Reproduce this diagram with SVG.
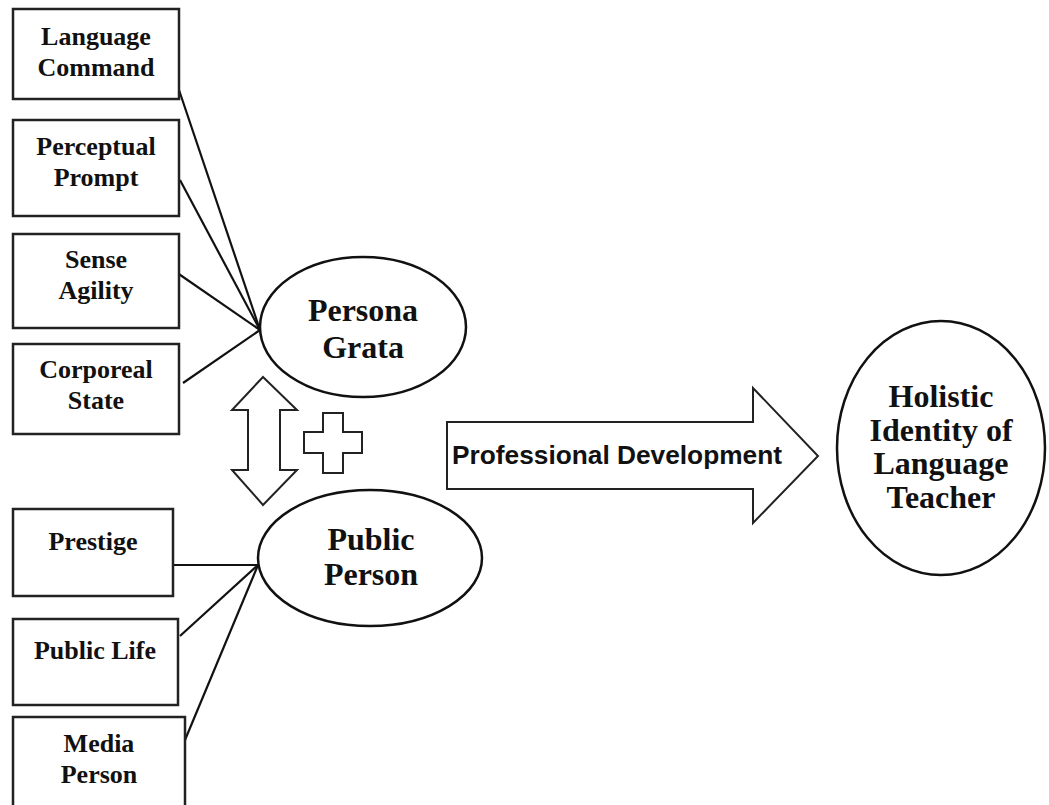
<svg xmlns="http://www.w3.org/2000/svg" width="1049" height="805" viewBox="0 0 1049 805">
<style>
.box{fill:#fff;stroke:#222;stroke-width:2.5}
.ell{fill:#fff;stroke:#111;stroke-width:2.5}
.shape{fill:#fff;stroke:#222;stroke-width:2}
.ln{stroke:#111;stroke-width:2.2;fill:none}
.t{font-family:"Liberation Serif","Times New Roman",serif;font-weight:bold;fill:#111;text-anchor:middle}
.s{font-size:26px}
.m{font-size:32px}
.pd{font-family:"Liberation Sans",Arial,sans-serif;font-weight:bold;font-size:26px;fill:#111}
</style>
<rect width="1049" height="805" fill="#fff"/>
<g id="connectors">
<line class="ln" x1="179" y1="90" x2="260" y2="330"/>
<line class="ln" x1="180" y1="180" x2="260" y2="330"/>
<line class="ln" x1="173" y1="270" x2="260" y2="330"/>
<line class="ln" x1="183" y1="383" x2="260" y2="330"/>
<line class="ln" x1="173" y1="565" x2="258" y2="565"/>
<line class="ln" x1="180" y1="636" x2="258" y2="565"/>
<line class="ln" x1="185" y1="740" x2="258" y2="565"/>
</g>
<g id="language-command"><rect class="box" x="13" y="9" width="166" height="90"/><text class="t s" x="96" y="45">Language</text><text class="t s" x="96" y="76">Command</text></g>
<g id="perceptual-prompt"><rect class="box" x="13" y="120" width="166" height="96"/><text class="t s" x="96" y="155">Perceptual</text><text class="t s" x="96" y="186">Prompt</text></g>
<g id="sense-agility"><rect class="box" x="13" y="234" width="166" height="94"/><text class="t s" x="96" y="268">Sense</text><text class="t s" x="96" y="299">Agility</text></g>
<g id="corporeal-state"><rect class="box" x="13" y="344" width="166" height="90"/><text class="t s" x="96" y="378">Corporeal</text><text class="t s" x="96" y="409">State</text></g>
<g id="prestige"><rect class="box" x="13" y="509" width="160" height="87"/><text class="t s" x="93" y="550">Prestige</text></g>
<g id="public-life"><rect class="box" x="13" y="619" width="165" height="86"/><text class="t s" x="95" y="659">Public Life</text></g>
<g id="media-person"><rect class="box" x="13" y="717" width="172" height="100"/><text class="t s" x="99" y="752">Media</text><text class="t s" x="99" y="783">Person</text></g>
<g id="persona-grata"><ellipse class="ell" cx="363" cy="327" rx="103" ry="70"/><text class="t m" x="363" y="321">Persona</text><text class="t m" x="363" y="358">Grata</text></g>
<g id="public-person"><ellipse class="ell" cx="370" cy="558" rx="112" ry="68"/><text class="t m" x="371" y="550">Public</text><text class="t m" x="371" y="585">Person</text></g>
<g id="double-arrow"><polygon class="shape" points="263,377 297,410 280,410 280,470 297,470 263,505 232,470 248,470 248,410 232,410"/></g>
<g id="plus"><polygon class="shape" points="323,413 343,413 343,432 362,432 362,453 343,453 343,473 323,473 323,453 304,453 304,432 323,432"/></g>
<g id="professional-development"><polygon class="shape" points="447,422 753,422 753,388 818,456 753,523 753,489 447,489"/><text class="pd" x="452" y="464" textLength="330" lengthAdjust="spacingAndGlyphs">Professional Development</text></g>
<g id="holistic-identity"><ellipse class="ell" cx="941" cy="448" rx="104" ry="127"/><text class="t m" x="941" y="407">Holistic</text><text class="t m" x="941" y="441">Identity of</text><text class="t m" x="941" y="474">Language</text><text class="t m" x="941" y="508">Teacher</text></g>
</svg>
